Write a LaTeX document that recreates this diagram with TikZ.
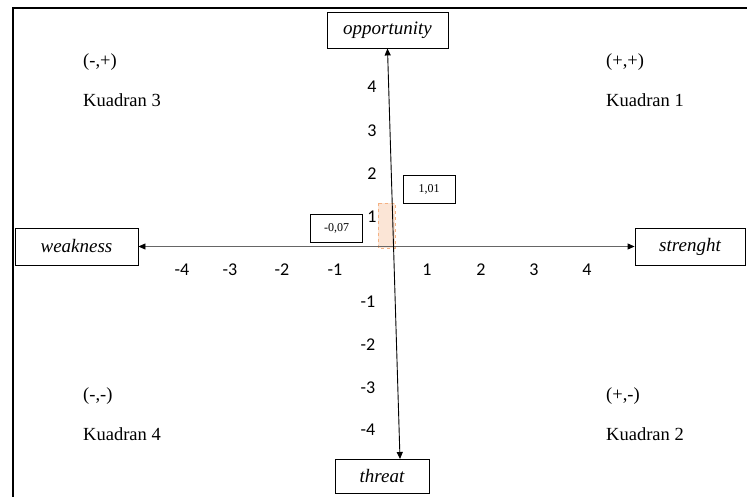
\documentclass[tikz,border=0pt]{standalone}
\usepackage{fontspec}
\setmainfont{Liberation Serif}
\newfontfamily\numfont{Carlito}
\usetikzlibrary{arrows.meta}
\tikzset{
  axisbox/.style={draw, line width=0.9pt, inner sep=0pt, font=\fontsize{19}{22}\selectfont\itshape},
  valbox/.style={draw, line width=0.9pt, inner sep=0pt, minimum width=52pt, minimum height=28pt, font=\fontsize{12}{14}\selectfont},
  ticklbl/.style={font=\numfont\fontsize{18}{20}\selectfont},
  quadlbl/.style={anchor=west, inner sep=0pt, font=\fontsize{18.5}{22}\selectfont},
}
\begin{document}
\begin{tikzpicture}[x=1pt, y=-1pt]
\useasboundingbox (0,0) rectangle (747,497);
\draw[line width=1.6pt] (13,497) -- (13,8) -- (747,8);

\node[axisbox, minimum width=121pt, minimum height=36pt] (opp) at (387.5,30) {opportunity};
\node[axisbox, minimum width=123pt, minimum height=37pt] (weak) at (76.5,246.5) {weakness};
\node[axisbox, minimum width=110pt, minimum height=37pt] (str) at (690,246.5) {strenght};
\node[axisbox, minimum width=94pt, minimum height=34pt] (thr) at (382,476) {threat};
\coordinate (thrtop) at (400,459);

% result marker
\draw[dashed, draw={rgb,255:red,244;green,177;blue,131}, fill={rgb,255:red,251;green,229;blue,214}, line width=0.8pt] (378,203) rectangle (395,248);

\draw[gray!80!black, line width=0.9pt, {Triangle[length=7pt,width=6pt,black]}-{Triangle[length=7pt,width=6pt,black]}] (weak) -- (str);
\draw[black, line width=0.9pt, {Triangle[length=7pt,width=6pt]}-{Triangle[length=7pt,width=6pt]}] (opp.south) -- (thrtop);

\node[valbox] (sval) at (429,189) {1,01};
\node[valbox] (wval) at (336.5,228) {-0,07};

% scale labels
\node[ticklbl] (xm4) at (182,270) {-4};
\node[ticklbl] (xm3) at (230,270) {-3};
\node[ticklbl] (xm2) at (282,270) {-2};
\node[ticklbl] (xm1) at (335,270) {-1};
\node[ticklbl] (xp1) at (427,270) {1};
\node[ticklbl] (xp2) at (481,270) {2};
\node[ticklbl] (xp3) at (534,270) {3};
\node[ticklbl] (xp4) at (587,270) {4};
\node[ticklbl] (yp4) at (372,87) {4};
\node[ticklbl] (yp3) at (372,131) {3};
\node[ticklbl] (yp2) at (372,174) {2};
\node[ticklbl] (yp1) at (372,217) {1};
\node[ticklbl] (ym1) at (368,302) {-1};
\node[ticklbl] (ym2) at (368,345) {-2};
\node[ticklbl] (ym3) at (368,388) {-3};
\node[ticklbl] (ym4) at (368,430) {-4};

% quadrants
\node[quadlbl] (q3s) at (83,62) {(-,+)};
\node[quadlbl] (q3) at (83,100) {Kuadran 3};
\node[quadlbl] (q1s) at (606,62) {(+,+)};
\node[quadlbl] (q1) at (606,100) {Kuadran 1};
\node[quadlbl] (q4s) at (83,396) {(-,-)};
\node[quadlbl] (q4) at (83,434) {Kuadran 4};
\node[quadlbl] (q2s) at (606,396) {(+,-)};
\node[quadlbl] (q2) at (606,434) {Kuadran 2};
\end{tikzpicture}
\end{document}
